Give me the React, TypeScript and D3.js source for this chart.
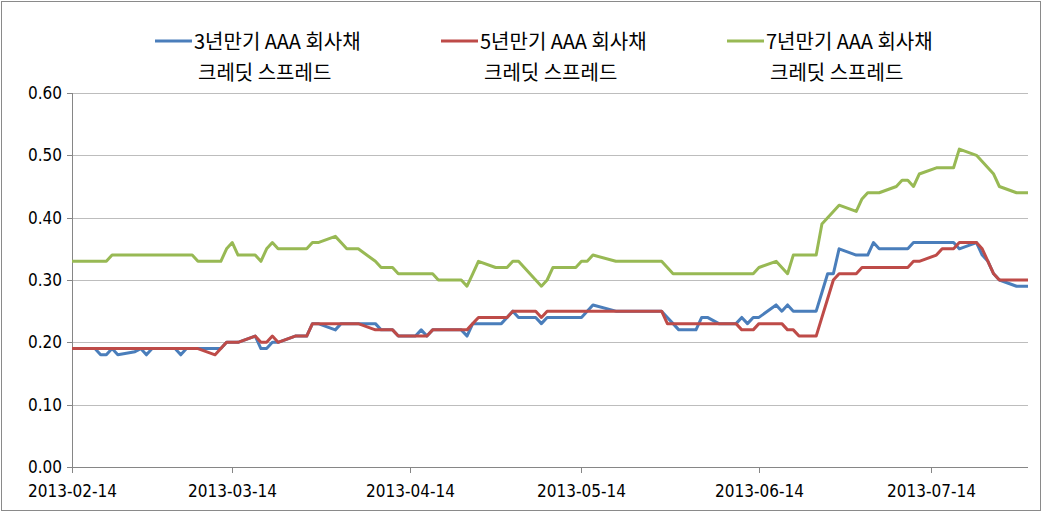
import React from "react";
import * as d3 from "d3";

const dates = [
  "2013-02-14","2013-02-15","2013-02-18","2013-02-19","2013-02-20","2013-02-21","2013-02-22",
  "2013-02-25","2013-02-26","2013-02-27","2013-02-28","2013-03-04","2013-03-05","2013-03-06",
  "2013-03-07","2013-03-08","2013-03-11","2013-03-12","2013-03-13","2013-03-14","2013-03-15",
  "2013-03-18","2013-03-19","2013-03-20","2013-03-21","2013-03-22","2013-03-25","2013-03-26",
  "2013-03-27","2013-03-28","2013-03-29","2013-04-01","2013-04-02","2013-04-03","2013-04-04",
  "2013-04-05","2013-04-08","2013-04-09","2013-04-10","2013-04-11","2013-04-12","2013-04-15",
  "2013-04-16","2013-04-17","2013-04-18","2013-04-19","2013-04-22","2013-04-23","2013-04-24",
  "2013-04-25","2013-04-26","2013-04-29","2013-04-30","2013-05-01","2013-05-02","2013-05-03",
  "2013-05-06","2013-05-07","2013-05-08","2013-05-09","2013-05-10","2013-05-13","2013-05-14",
  "2013-05-15","2013-05-16","2013-05-20","2013-05-21","2013-05-22","2013-05-23","2013-05-24",
  "2013-05-27","2013-05-28","2013-05-29","2013-05-30","2013-05-31","2013-06-03","2013-06-04",
  "2013-06-05","2013-06-07","2013-06-10","2013-06-11","2013-06-12","2013-06-13","2013-06-14",
  "2013-06-17","2013-06-18","2013-06-19","2013-06-20","2013-06-21","2013-06-24","2013-06-25",
  "2013-06-26","2013-06-27","2013-06-28","2013-07-01","2013-07-02","2013-07-03","2013-07-04",
  "2013-07-05","2013-07-08","2013-07-09","2013-07-10","2013-07-11","2013-07-12","2013-07-15",
  "2013-07-16","2013-07-17","2013-07-18","2013-07-19","2013-07-22","2013-07-23","2013-07-24",
  "2013-07-25","2013-07-26","2013-07-29","2013-07-30","2013-07-31",
];

// 7년만기
const spread7y = [
  0.33,0.33,0.33,0.33,0.33,0.34,0.34,
  0.34,0.34,0.34,0.34,0.34,0.34,0.34,
  0.34,0.33,0.33,0.33,0.35,0.36,0.34,
  0.34,0.33,0.35,0.36,0.35,0.35,0.35,
  0.35,0.36,0.36,0.37,0.36,0.35,0.35,
  0.35,0.33,0.32,0.32,0.32,0.31,0.31,
  0.31,0.31,0.31,0.30,0.30,0.30,0.29,
  0.31,0.33,0.32,0.32,0.32,0.33,0.33,
  0.30,0.29,0.30,0.32,0.32,0.32,0.33,
  0.33,0.34,0.33,0.33,0.33,0.33,0.33,
  0.33,0.33,0.32,0.31,0.31,0.31,0.31,
  0.31,0.31,0.31,0.31,0.31,0.31,0.32,
  0.33,0.32,0.31,0.34,0.34,0.34,0.39,
  0.40,0.41,0.42,0.41,0.43,0.44,0.44,
  0.44,0.45,0.46,0.46,0.45,0.47,0.48,
  0.48,0.48,0.48,0.51,0.50,0.49,0.48,
  0.47,0.45,0.44,0.44,0.44,
];

// 5년만기
const spread5y = [
  0.19,0.19,0.19,0.19,0.19,0.19,0.19,
  0.19,0.19,0.19,0.19,0.19,0.19,0.19,
  0.19,0.19,0.18,0.19,0.20,0.20,0.20,
  0.21,0.20,0.20,0.21,0.20,0.21,0.21,
  0.21,0.23,0.23,0.23,0.23,0.23,0.23,
  0.23,0.22,0.22,0.22,0.22,0.21,0.21,
  0.21,0.21,0.22,0.22,0.22,0.22,0.22,
  0.23,0.24,0.24,0.24,0.24,0.25,0.25,
  0.25,0.24,0.25,0.25,0.25,0.25,0.25,
  0.25,0.25,0.25,0.25,0.25,0.25,0.25,
  0.25,0.25,0.23,0.23,0.23,0.23,0.23,
  0.23,0.23,0.23,0.22,0.22,0.22,0.23,
  0.23,0.23,0.22,0.22,0.21,0.21,0.24,
  0.27,0.30,0.31,0.31,0.32,0.32,0.32,
  0.32,0.32,0.32,0.32,0.33,0.33,0.34,
  0.35,0.35,0.35,0.36,0.36,0.35,0.33,
  0.31,0.30,0.30,0.30,0.30,
];

// 3년만기
const spread3y = [
  0.19,0.19,0.19,0.18,0.18,0.19,0.18,
  0.185,0.19,0.18,0.19,0.19,0.18,0.19,
  0.19,0.19,0.19,0.19,0.20,0.20,0.20,
  0.21,0.19,0.19,0.20,0.20,0.21,0.21,
  0.21,0.23,0.23,0.22,0.23,0.23,0.23,
  0.23,0.23,0.22,0.22,0.22,0.21,0.21,
  0.22,0.21,0.22,0.22,0.22,0.22,0.21,
  0.23,0.23,0.23,0.23,0.24,0.25,0.24,
  0.24,0.23,0.24,0.24,0.24,0.24,0.24,
  0.25,0.26,0.25,0.25,0.25,0.25,0.25,
  0.25,0.25,0.24,0.23,0.22,0.22,0.24,
  0.24,0.23,0.23,0.24,0.23,0.24,0.24,
  0.26,0.25,0.26,0.25,0.25,0.25,0.28,
  0.31,0.31,0.35,0.34,0.34,0.34,0.36,
  0.35,0.35,0.35,0.35,0.36,0.36,0.36,
  0.36,0.36,0.36,0.35,0.36,0.34,0.33,
  0.31,0.30,0.29,0.29,0.29,
];

const yTicks = [0, 0.1, 0.2, 0.3, 0.4, 0.5, 0.6];
const xTickLabels = ["2013-02-14", "2013-03-14", "2013-04-14", "2013-05-14", "2013-06-14", "2013-07-14"];
const xDomain = ["2013-02-14", "2013-07-31"];
const seriesNames = ["3년만기 AAA 회사채", "5년만기 AAA 회사채", "7년만기 AAA 회사채"];
const seriesSub = "크레딧 스프레드";
const seriesColors = ["#4A7EBB", "#BE4B48", "#98B954"];

const legendLineX = [155, 441, 727];

export default function App() {
  const W = 1043;
  const H = 512;
  const parse = d3.utcParse("%Y-%m-%d");
  const x = d3.scaleUtc().domain(xDomain.map((d) => parse(d) as Date)).range([72, 1028]);
  const y = d3.scaleLinear().domain([0, 0.6]).range([467, 93]);
  const series = [spread3y, spread5y, spread7y];
  const line = d3
    .line<number>()
    .x((_, i) => x(parse(dates[i]) as Date))
    .y((v) => y(v));

  const tickFont = "'Liberation Sans Narrow', 'Arial Narrow', 'DejaVu Sans Condensed', sans-serif";
  const legendFont = "'Noto Sans CJK KR', 'Noto Sans', sans-serif";

  return (
    <div style={{ position: "absolute", left: 0, top: 0 }}>
      <svg width={W} height={H} style={{ display: "block", background: "#fff" }}>
        <rect x={1.5} y={1.5} width={W - 4} height={H - 3} fill="#fff" stroke="#8a8a8a" strokeWidth={1} />
        {yTicks.map((t) => (
          <g key={t}>
            {t > 0 && (
              <line x1={72} x2={1028} y1={Math.round(y(t)) + 0.5} y2={Math.round(y(t)) + 0.5} stroke="#bdbdbd" strokeWidth={1} />
            )}
            <line x1={67} x2={72} y1={Math.round(y(t)) + 0.5} y2={Math.round(y(t)) + 0.5} stroke="#868686" />
            <text x={62} y={y(t)} dy="0.35em" textAnchor="end" fontSize={17} fontFamily={tickFont} fill="#000">
              {t.toFixed(2)}
            </text>
          </g>
        ))}
        <line x1={72.5} x2={72.5} y1={93} y2={467} stroke="#868686" />
        <line x1={72} x2={1028} y1={467.5} y2={467.5} stroke="#868686" />
        {xTickLabels.map((d) => {
          const px = Math.round(x(parse(d) as Date)) + 0.5;
          return (
            <g key={d}>
              <line x1={px} x2={px} y1={467} y2={473} stroke="#868686" />
              <text x={px} y={497} textAnchor="middle" fontSize={17} fontFamily={tickFont} fill="#000">
                {d}
              </text>
            </g>
          );
        })}
        {series.map((s, i) => (
          <path key={i} d={line(s) || ""} fill="none" stroke={seriesColors[i]} strokeWidth={3} strokeLinejoin="round" />
        ))}
        {seriesNames.map((n, i) => (
          <g key={n}>
            <line x1={legendLineX[i]} x2={legendLineX[i] + 37} y1={41} y2={41} stroke={seriesColors[i]} strokeWidth={3} />
            <text x={legendLineX[i] + 39} y={42} dy="0.35em" fontSize={20} fontFamily={legendFont} fill="#000">
              {n}
            </text>
            <text x={legendLineX[i] + 43} y={73} dy="0.35em" fontSize={20} fontFamily={legendFont} fill="#000">
              {seriesSub}
            </text>
          </g>
        ))}
      </svg>
    </div>
  );
}
